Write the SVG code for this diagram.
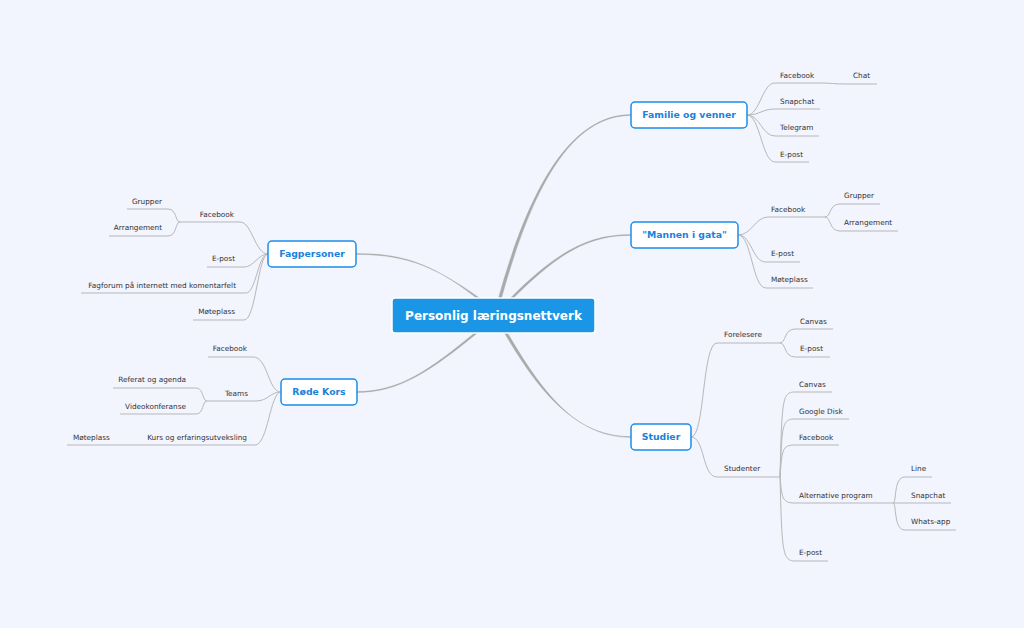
<svg xmlns="http://www.w3.org/2000/svg" width="1024" height="628" viewBox="0 0 1024 628">
<style>
.bg{fill:#f2f4fe}
.main{fill:#aaaaaa;stroke:#aaaaaa;stroke-width:0.4;stroke-linejoin:round}
.sub{fill:none;stroke:#b8b8b8;stroke-width:1}
.node rect{fill:#ffffff;stroke:#1b8de8;stroke-width:1.5}
.node text{font-family:"DejaVu Sans",Verdana,sans-serif;font-weight:bold;font-size:9.3px;fill:#1a82dc;text-anchor:middle}
.t{font-family:"DejaVu Sans",Verdana,sans-serif;font-size:7.3px;fill:#333333}
.e{text-anchor:end}
</style>
<rect class="bg" x="0" y="0" width="1024" height="628"/>
<g id="connectors">
  <path class="main" d="M498.5 298 C528.5 190 570 114.6 631 114.6 L631 115.4 C570 115.4 531.5 190 501.5 298 Z"/>
  <path class="main" d="M510.5 298 C559 249.5 590 234.6 631 234.6 L631 235.4 C590 235.4 561 250.5 513.5 298 Z"/>
  <path class="main" d="M504.5 333 C543.5 400 580 436.6 631 436.6 L631 437.4 C580 437.4 546.5 400 507.5 333 Z"/>
  <path class="main" d="M476.5 298 C430 261.5 400 253.6 356 253.6 L356 254.4 C400 254.4 430 262.5 479.5 298 Z"/>
  <path class="main" d="M474.5 333 C430 369.5 400 391.6 357 391.6 L357 392.4 C400 392.4 431 370.5 477.5 333 Z"/>
  <!-- Familie -->
  <path class="sub" d="M747 115 C760 115 762 83 775 83 L820 83"/>
  <path class="sub" d="M820 83 C830 83 835 84 845 84 L877 84"/>
  <path class="sub" d="M747 115 C760 115 762 109 775 109 L820 109"/>
  <path class="sub" d="M747 115 C760 115 762 136 775 136 L819 136"/>
  <path class="sub" d="M747 115 C760 115 762 162 775 162 L809 162"/>
  <!-- Mannen -->
  <path class="sub" d="M738 235 C752 235 755 217 768 217 L825 217"/>
  <path class="sub" d="M825 217 C831 217 829 204 840 204 L880 204"/>
  <path class="sub" d="M825 217 C831 217 829 231 840 231 L898 231"/>
  <path class="sub" d="M738 235 C752 235 752 262 766 262 L800 262"/>
  <path class="sub" d="M738 235 C752 235 752 288 766 288 L813 288"/>
  <!-- Studier -->
  <path class="sub" d="M691 437 C705 437 702 343 717 343 L780 343"/>
  <path class="sub" d="M780 343 C786 343 784 329 795 329 L833 329"/>
  <path class="sub" d="M780 343 C786 343 784 357 795 357 L830 357"/>
  <path class="sub" d="M691 437 C705 437 702 477 717 477 L780 477"/>
  <path class="sub" d="M780 477 C782 400 782 392 795 392 L832 392"/>
  <path class="sub" d="M780 477 C782 425 782 419 795 419 L849 419"/>
  <path class="sub" d="M780 477 C782 450 782 445 795 445 L839 445"/>
  <path class="sub" d="M780 477 C782 498 782 503 795 503 L893 503"/>
  <path class="sub" d="M780 477 C782 550 782 561 795 561 L828 561"/>
  <path class="sub" d="M893 503 C897 503 893 477 905 477 L932 477"/>
  <path class="sub" d="M893 503 L951 503"/>
  <path class="sub" d="M893 503 C897 503 893 530 905 530 L956 530"/>
  <!-- Fagpersoner -->
  <path class="sub" d="M268 254 C255 254 252 222 240 222 L180 222"/>
  <path class="sub" d="M180 222 C175 222 177 209 168 209 L127 209"/>
  <path class="sub" d="M180 222 C175 222 177 236 168 236 L109 236"/>
  <path class="sub" d="M268 254 C258 254 254 267 244 267 L207 267"/>
  <path class="sub" d="M268 254 C258 254 256 293 246 293 L81 293"/>
  <path class="sub" d="M268 254 C258 254 256 320 244 320 L193 320"/>
  <!-- Røde Kors -->
  <path class="sub" d="M281 392 C268 392 268 357 253 357 L208 357"/>
  <path class="sub" d="M281 392 C270 392 268 401 256 401 L207 401"/>
  <path class="sub" d="M207 401 C202 401 204 388 196 388 L113 388"/>
  <path class="sub" d="M207 401 C202 401 204 414 196 414 L120 414"/>
  <path class="sub" d="M281 392 C270 392 268 445 255 445 L140 445"/>
  <path class="sub" d="M140 445 L67 445"/>
</g>
<g id="center">
  <rect x="392" y="298" width="203" height="35" rx="3" fill="#1b96e6" stroke="#ffffff" stroke-width="1.5"/>
  <text x="493.5" y="320.3" font-family="DejaVu Sans,Verdana,sans-serif" font-weight="bold" font-size="12" fill="#ffffff" text-anchor="middle">Personlig læringsnettverk</text>
</g>
<g id="familie" class="node"><rect x="631" y="102" width="116" height="26" rx="4"/><text x="689" y="118.3">Familie og venner</text></g>
<g id="mannen" class="node"><rect x="631" y="222" width="107" height="26" rx="4"/><text x="684.5" y="238.3">"Mannen i gata"</text></g>
<g id="studier" class="node"><rect x="631" y="424" width="60" height="26" rx="4"/><text x="661" y="440.3">Studier</text></g>
<g id="fagpersoner" class="node"><rect x="268" y="241" width="88" height="26" rx="4"/><text x="312" y="257.3">Fagpersoner</text></g>
<g id="rodekors" class="node"><rect x="281" y="379" width="76" height="26" rx="4"/><text x="319" y="395.3">Røde Kors</text></g>
<g id="familie-children">
  <text class="t" x="780" y="77.5">Facebook</text>
  <text class="t" x="853" y="77.5">Chat</text>
  <text class="t" x="780" y="103.5">Snapchat</text>
  <text class="t" x="780" y="129.5">Telegram</text>
  <text class="t" x="780" y="156.5">E-post</text>
</g>
<g id="mannen-children">
  <text class="t" x="771" y="211.5">Facebook</text>
  <text class="t" x="844" y="197.5">Grupper</text>
  <text class="t" x="844" y="224.5">Arrangement</text>
  <text class="t" x="771" y="255.5">E-post</text>
  <text class="t" x="771" y="281.5">Møteplass</text>
</g>
<g id="studier-children">
  <text class="t" x="724" y="336.5">Forelesere</text>
  <text class="t" x="800" y="323.5">Canvas</text>
  <text class="t" x="800" y="350.5">E-post</text>
  <text class="t" x="724" y="470.5">Studenter</text>
  <text class="t" x="799" y="386.5">Canvas</text>
  <text class="t" x="799" y="413.5">Google Disk</text>
  <text class="t" x="799" y="439.5">Facebook</text>
  <text class="t" x="799" y="497.5">Alternative program</text>
  <text class="t" x="911" y="470.5">Line</text>
  <text class="t" x="911" y="497.5">Snapchat</text>
  <text class="t" x="911" y="523.5">Whats-app</text>
  <text class="t" x="799" y="554.5">E-post</text>
</g>
<g id="fagpersoner-children">
  <text class="t e" x="234" y="216.5">Facebook</text>
  <text class="t e" x="162" y="203.5">Grupper</text>
  <text class="t e" x="162" y="229.5">Arrangement</text>
  <text class="t e" x="235" y="260.5">E-post</text>
  <text class="t e" x="236" y="287.5">Fagforum på internett med komentarfelt</text>
  <text class="t e" x="235" y="313.5">Møteplass</text>
</g>
<g id="rodekors-children">
  <text class="t e" x="247" y="350.5">Facebook</text>
  <text class="t e" x="248" y="395.5">Teams</text>
  <text class="t e" x="186" y="381.5">Referat og agenda</text>
  <text class="t e" x="186" y="408.5">Videokonferanse</text>
  <text class="t e" x="247" y="439.5">Kurs og erfaringsutveksling</text>
  <text class="t" x="73" y="439.5">Møteplass</text>
</g>
</svg>
